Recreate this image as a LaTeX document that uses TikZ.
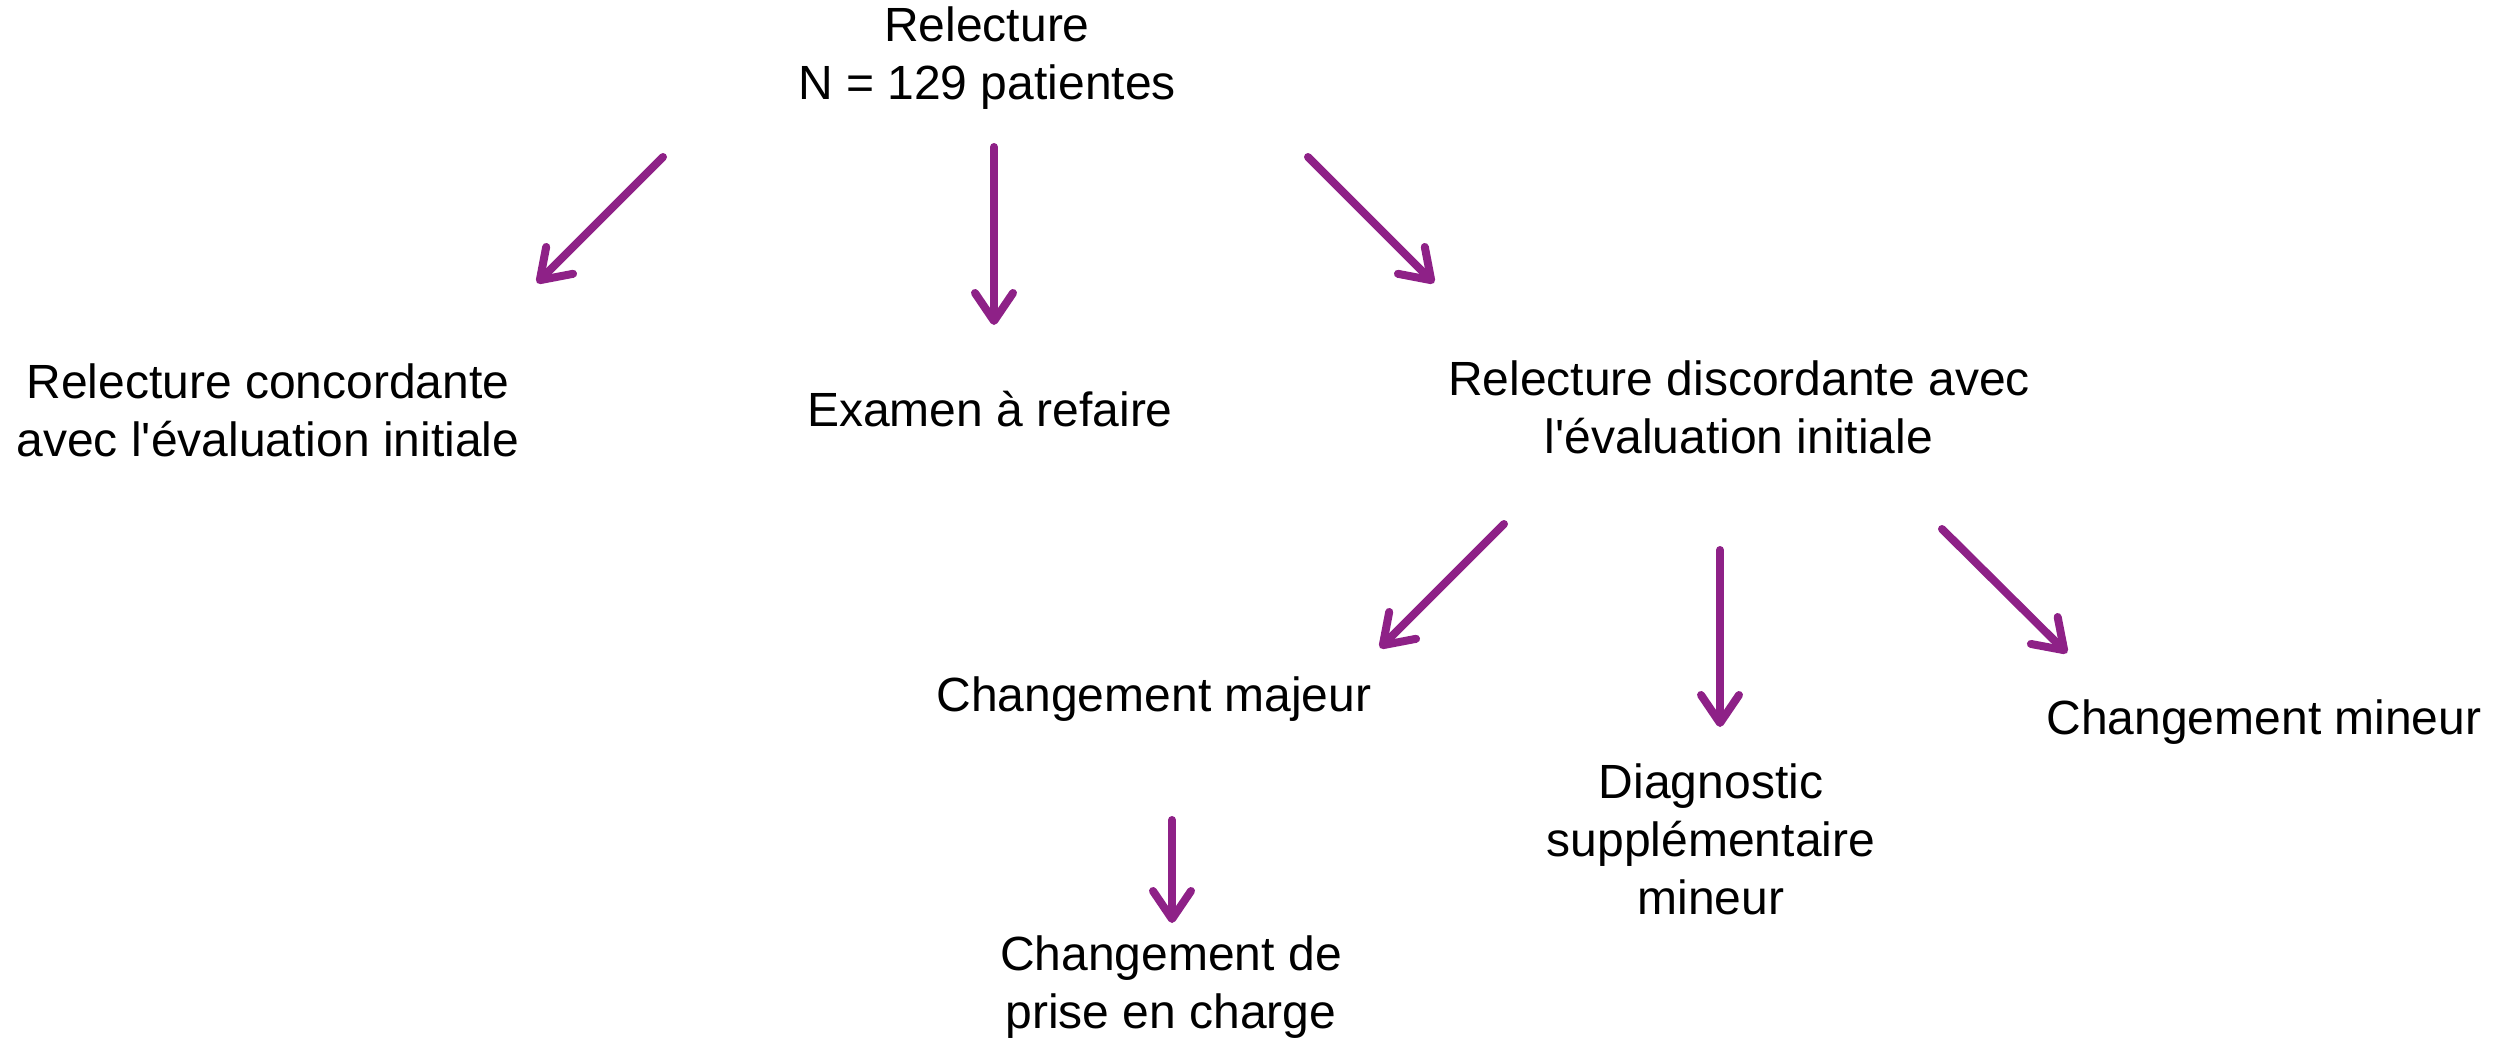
\documentclass[tikz,border=0pt]{standalone}
\usepackage{fontspec}
\setmainfont{Liberation Sans}[Ligatures=TeXOff]
\usetikzlibrary{arrows.meta}
\definecolor{arrowpurple}{RGB}{142,33,135}
\tikzset{
  lbl/.style={align=center, inner sep=0pt, font=\fontsize{48pt}{58pt}\selectfont},
  arr/.style={draw=arrowpurple, line width=8pt, line cap=round,
    -{Straight Barb[length=28pt, width=38pt, line cap=round, line join=round]}}
}
\begin{document}
\begin{tikzpicture}[x=1pt,y=-1pt]
\useasboundingbox (0,0) rectangle (2504,1037);
\node[lbl] (root) at (987,58) {Relecture\\N = 129 patientes};
\node[lbl] (conc) at (268,410) {Relecture concordante\\avec l'évaluation initiale};
\node[lbl] (exam) at (990,409) {Examen à refaire};
\node[lbl] (disc) at (1739,407) {Relecture discordante avec\\l'évaluation initiale};
\node[lbl] (majeur) at (1154,699) {Changement majeur};
\node[lbl] (diag) at (1711,839) {Diagnostic\\supplémentaire\\mineur};
\node[lbl] (mineur) at (2264,722) {Changement mineur};
\node[lbl] (prise) at (1171,987) {Changement de\\prise en charge};

\coordinate (a1s) at (663,157); \coordinate (a1e) at (537,283);
\coordinate (a2s) at (994,147); \coordinate (a2e) at (994,325);
\coordinate (a3s) at (1308,157); \coordinate (a3e) at (1434,283);
\coordinate (a4s) at (1504,524); \coordinate (a4e) at (1380,648);
\coordinate (a5s) at (1720,550); \coordinate (a5e) at (1720,727);
\coordinate (a6s) at (1942,529); \coordinate (a6e) at (2067,653);
\coordinate (a7s) at (1172,820); \coordinate (a7e) at (1172,923);

\draw[arr] (a1s) -- (a1e);
\draw[arr] (a2s) -- (a2e);
\draw[arr] (a3s) -- (a3e);
\draw[arr] (a4s) -- (a4e);
\draw[arr] (a5s) -- (a5e);
\draw[arr] (a6s) -- (a6e);
\draw[arr] (a7s) -- (a7e);
\end{tikzpicture}
\end{document}
